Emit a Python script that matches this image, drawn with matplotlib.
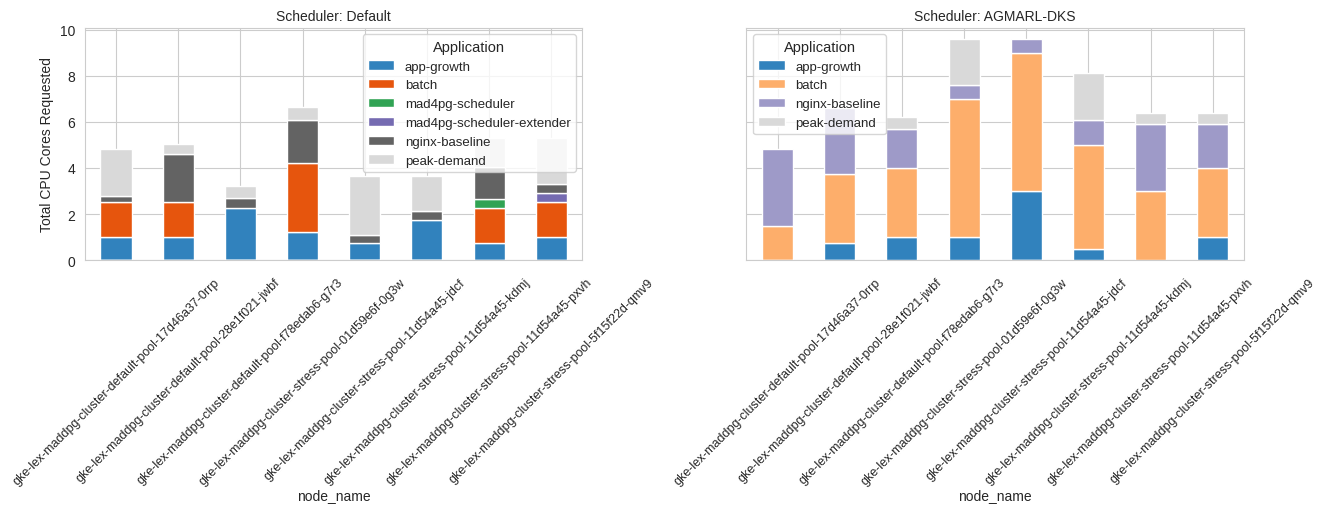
import matplotlib
matplotlib.use("Agg")
import matplotlib.pyplot as plt
import pandas as pd
import seaborn as sns

nodes = [
    "gke-lex-maddpg-cluster-default-pool-17d46a37-0rrp",
    "gke-lex-maddpg-cluster-default-pool-28e1f021-jwbf",
    "gke-lex-maddpg-cluster-default-pool-f78edab6-g7r3",
    "gke-lex-maddpg-cluster-stress-pool-01d59e6f-0g3w",
    "gke-lex-maddpg-cluster-stress-pool-11d54a45-jdcf",
    "gke-lex-maddpg-cluster-stress-pool-11d54a45-kdmj",
    "gke-lex-maddpg-cluster-stress-pool-11d54a45-pxvh",
    "gke-lex-maddpg-cluster-stress-pool-5f15f22d-qmv9",
]

# CPU cores requested per node, default scheduler
default_app_growth = [1.0, 1.0, 2.25, 1.2, 0.75, 1.75, 0.75, 1.0]
default_batch = [1.5, 1.5, 0.0, 3.0, 0.0, 0.0, 1.5, 1.5]
default_mad4pg = [0.0, 0.0, 0.0, 0.0, 0.0, 0.0, 0.4, 0.0]
default_extender = [0.0, 0.0, 0.0, 0.0, 0.0, 0.0, 0.0, 0.4]
default_nginx = [0.3, 2.1, 0.45, 1.9, 0.35, 0.4, 1.4, 0.4]
default_peak = [2.0, 0.45, 0.5, 0.55, 2.55, 1.5, 1.25, 2.0]

# CPU cores requested per node, AGMARL-DKS scheduler
agmarl_app_growth = [0.0, 0.75, 1.0, 1.0, 3.0, 0.5, 0.0, 1.0]
agmarl_batch = [1.5, 3.0, 3.0, 6.0, 6.0, 4.5, 3.0, 3.0]
agmarl_nginx = [3.3, 2.85, 1.7, 0.6, 0.6, 1.1, 2.9, 1.9]
agmarl_peak = [0.0, 0.0, 0.5, 2.0, 0.0, 2.0, 0.5, 0.5]

df_default = pd.DataFrame({
    "app-growth": default_app_growth,
    "batch": default_batch,
    "mad4pg-scheduler": default_mad4pg,
    "mad4pg-scheduler-extender": default_extender,
    "nginx-baseline": default_nginx,
    "peak-demand": default_peak,
}, index=pd.Index(nodes, name="node_name"))
df_default.columns.name = "Application"

df_agmarl = pd.DataFrame({
    "app-growth": agmarl_app_growth,
    "batch": agmarl_batch,
    "nginx-baseline": agmarl_nginx,
    "peak-demand": agmarl_peak,
}, index=pd.Index(nodes, name="node_name"))
df_agmarl.columns.name = "Application"

colors_default = ["#3182bd", "#e6550d", "#31a354", "#756bb1", "#636363", "#d9d9d9"]
colors_agmarl = ["#3182bd", "#fdae6b", "#9e9ac8", "#d9d9d9"]

sns.set_style("whitegrid")
plt.rcParams["font.family"] = ["Liberation Sans", "DejaVu Sans"]
plt.rcParams["font.size"] = 10

fig, axes = plt.subplots(1, 2, figsize=(13.17, 5.06), dpi=100, sharey=True)
fig.subplots_adjust(left=0.0645, right=0.9445, top=0.943, bottom=0.484, wspace=0.33)

df_default.plot(kind="bar", stacked=True, ax=axes[0], color=colors_default,
                edgecolor="white", linewidth=1)
df_agmarl.plot(kind="bar", stacked=True, ax=axes[1], color=colors_agmarl,
               edgecolor="white", linewidth=1)

axes[0].set_title("Scheduler: Default", fontsize=10)
axes[1].set_title("Scheduler: AGMARL-DKS", fontsize=10)
axes[0].set_ylabel("Total CPU Cores Requested", fontsize=10)

for ax in axes:
    ax.set_xlabel("node_name", fontsize=10, labelpad=1)
    ax.tick_params(axis="x", labelrotation=45, labelsize=9.0, pad=8)
    ax.tick_params(axis="y", labelsize=10)
    ax.grid(True, axis="both")
    ax.set_axisbelow(True)

axes[0].legend(title="Application", loc="upper right", fontsize=9.5, title_fontsize=10.5)
axes[1].legend(title="Application", loc="upper left", fontsize=9.5, title_fontsize=10.5)

fig.savefig("out.png", dpi=100)
